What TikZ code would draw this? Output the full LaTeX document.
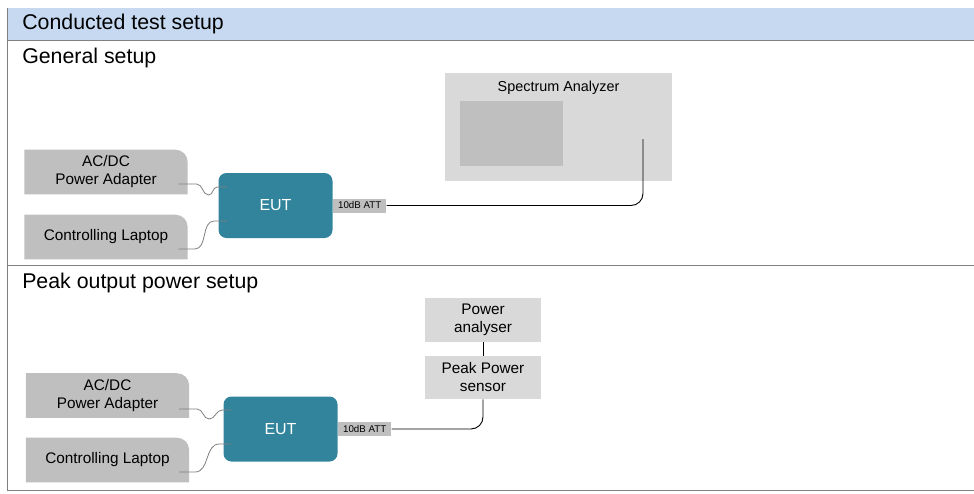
\documentclass[tikz,border=0pt]{standalone}
\usepackage{fontspec}
\setmainfont{Liberation Sans}
\usetikzlibrary{positioning,backgrounds}
\definecolor{barblue}{HTML}{C6D9F1}
\definecolor{devgray}{HTML}{BFBFBF}
\definecolor{instgray}{HTML}{D9D9D9}
\definecolor{eutteal}{HTML}{31849B}
\definecolor{rulegray}{HTML}{808080}
\definecolor{wiregray}{HTML}{7F7F7F}
\tikzset{
	device/.style={minimum width=122pt,minimum height=33pt,align=center,inner sep=0pt,font=\fontsize{11.5}{13.5}\selectfont},
	eut/.style={fill=eutteal,rounded corners=6pt,minimum width=85.5pt,minimum height=48.75pt,inner sep=0pt,text=white,font=\fontsize{12}{14}\selectfont},
	att/.style={fill=devgray,anchor=west,minimum width=40pt,minimum height=10.5pt,inner sep=0pt,font=\fontsize{7.3}{8}\selectfont},
	instr/.style={fill=instgray,align=center,inner sep=0pt,font=\fontsize{11.5}{13.5}\selectfont},
	heading/.style={anchor=west,inner sep=0pt,font=\fontsize{16}{18}\selectfont},
	wire/.style={draw=wiregray,line width=0.6pt},
	cable/.style={draw=black,line width=0.7pt,rounded corners=9pt},
	frame/.style={draw=rulegray,line width=0.75pt}
}

\begin{document}
\begin{tikzpicture}[x=0.75pt,y=-0.75pt]
	\useasboundingbox (0,0) rectangle (974,493);
	% frame and title bar
	\fill[barblue] (7,8) rectangle (974,40);
	\draw[frame] (7,8) -- (7,490) -- (974,490);
	\draw[frame] (7,40) -- (974,40);
	\draw[frame] (7,265) -- (974,265);
	\node[heading] (title) at (22,24) {Conducted test setup};
	\node[heading] (general) at (22,58) {General setup};
	\node[heading] (peak) at (22,283) {Peak output power setup};

	% general setup
	\node[device] (acdcA) at (106,172) {AC/DC\\Power Adapter};
	\node[device] (lapA) at (106,237) {Controlling Laptop};
	\node[eut] (eutA) at (275.5,205.5) {EUT};
	\node[att] (attA) at (eutA.east) {10dB ATT};
	\node[fill=instgray,minimum width=170.25pt,minimum height=81pt] (sa) at (558.5,127) {};
	\node[inner sep=0pt,below=6pt of sa.north,font=\fontsize{10.8}{12}\selectfont] (satitle) {Spectrum Analyzer};
	\node[fill=devgray,minimum width=77.25pt,minimum height=48.75pt] (screen) at (511.5,133.5) {};
	\coordinate (saport) at (643,139);

	\draw[wire] ([shift={(-9,12)}]acdcA.east) -- ++(18,0) to[out=0,in=180] ++(12,11)
		to[out=0,in=180] ([shift={(-1,-18.5)}]eutA.west) -- ([shift={(9,-18.5)}]eutA.west);
	\draw[wire] ([shift={(-9,12)}]lapA.east) -- ++(16,0) to[out=0,in=180]
		([shift={(-4,15.5)}]eutA.west) -- ([shift={(9,15.5)}]eutA.west);
	\draw[cable] (attA.east) -| (saport);

	% peak output power setup
	\node[device] (acdcB) at (107.5,395.5) {AC/DC\\Power Adapter};
	\node[device] (lapB) at (107.5,460) {Controlling Laptop};
	\node[eut] (eutB) at (280.5,429) {EUT};
	\node[att] (attB) at (eutB.east) {10dB ATT};
	\node[instr,minimum width=87pt,minimum height=33pt] (pa) at (483,320) {Power\\analyser};
	\node[instr,minimum width=87pt,minimum height=32.25pt] (sensor) at (483,377.5) {Peak Power\\sensor};

	\draw[wire] ([shift={(-10,13.5)}]acdcB.east) -- ++(18,0) to[out=0,in=180] ++(12,10)
		to[out=0,in=180] ([shift={(-1,-19)}]eutB.west) -- ([shift={(8,-19)}]eutB.west);
	\draw[wire] ([shift={(-10,12)}]lapB.east) -- ++(16,0) to[out=0,in=180]
		([shift={(-4,15)}]eutB.west) -- ([shift={(8,15)}]eutB.west);
	\draw[cable] (pa) -- (sensor);
	\draw[cable] (attB.east) -| (sensor.south);

	% device shapes with one rounded corner
	\begin{scope}[on background layer]
		\foreach \n in {acdcA,lapA,acdcB,lapB}
			\fill[devgray] (\n.south west) -- (\n.north west) -- ([xshift=-9pt]\n.north east)
				arc[start angle=90,end angle=0,radius=9pt] -- (\n.south east) -- cycle;
	\end{scope}
\end{tikzpicture}
\end{document}
